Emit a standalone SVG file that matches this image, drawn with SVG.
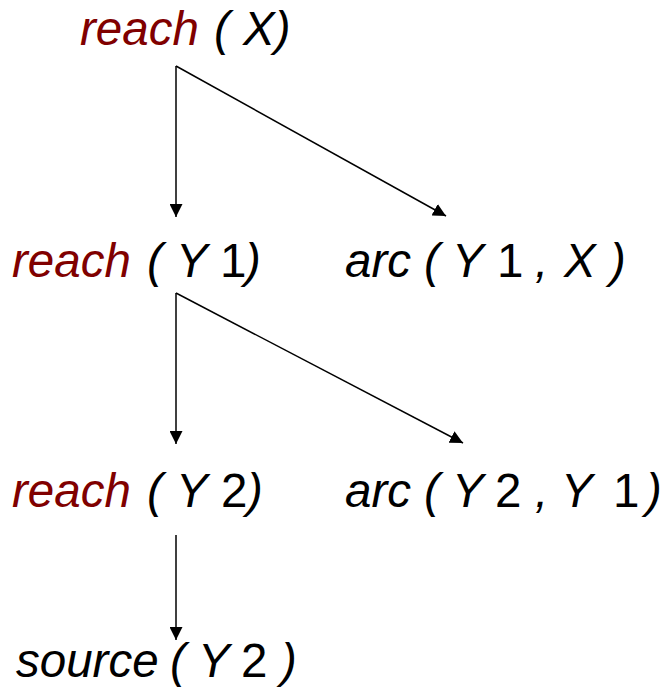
<svg xmlns="http://www.w3.org/2000/svg" width="670" height="690" viewBox="0 0 670 690">
<style>
text{font-family:"Liberation Sans",Arial,sans-serif;font-size:47.5px;font-style:italic;fill:#000}
.p{fill:#800000}
.n{font-style:normal}
.c{stroke:#000;stroke-width:1.5;fill:none}
</style>
<defs>
<marker id="ah" viewBox="0 0 13 13" refX="13" refY="6.5" markerWidth="13" markerHeight="13" markerUnits="userSpaceOnUse" orient="auto">
<path d="M0,0 L13,6.5 L0,13 Z" fill="#000"/>
</marker>
</defs>
<rect width="670" height="690" fill="#fff"/>
<g id="connectors">
<line class="c" x1="176" y1="66" x2="176" y2="217" marker-end="url(#ah)"/>
<line class="c" x1="176" y1="66" x2="446" y2="216" marker-end="url(#ah)"/>
<line class="c" x1="176" y1="293" x2="176" y2="444" marker-end="url(#ah)"/>
<line class="c" x1="176" y1="293" x2="463" y2="443" marker-end="url(#ah)"/>
<line class="c" x1="176" y1="535" x2="176" y2="640" marker-end="url(#ah)"/>
</g>
<g id="n1"><text y="45"><tspan class="p" x="80">reach</tspan><tspan x="214">( X)</tspan></text></g>
<g id="n2"><text y="277"><tspan class="p" x="12">reach</tspan><tspan x="147">(</tspan><tspan x="176">Y</tspan><tspan class="n" x="220">1</tspan><tspan x="245">)</tspan></text></g>
<g id="n3"><text y="277"><tspan x="345">arc</tspan><tspan x="424">(</tspan><tspan x="452">Y</tspan><tspan class="n" x="497">1</tspan><tspan x="535">,</tspan><tspan x="564">X</tspan><tspan x="610">)</tspan></text></g>
<g id="n4"><text y="507"><tspan class="p" x="12">reach</tspan><tspan x="147">(</tspan><tspan x="176">Y</tspan><tspan class="n" x="221">2</tspan><tspan x="247">)</tspan></text></g>
<g id="n5"><text y="507"><tspan x="345">arc</tspan><tspan x="424">(</tspan><tspan x="452">Y</tspan><tspan class="n" x="495">2</tspan><tspan x="535">,</tspan><tspan x="561">Y</tspan><tspan class="n" x="613">1</tspan><tspan x="646">)</tspan></text></g>
<g id="n6"><text y="677"><tspan x="16">source</tspan><tspan x="170">(</tspan><tspan x="198">Y</tspan><tspan class="n" x="241">2</tspan><tspan x="281">)</tspan></text></g>
</svg>
